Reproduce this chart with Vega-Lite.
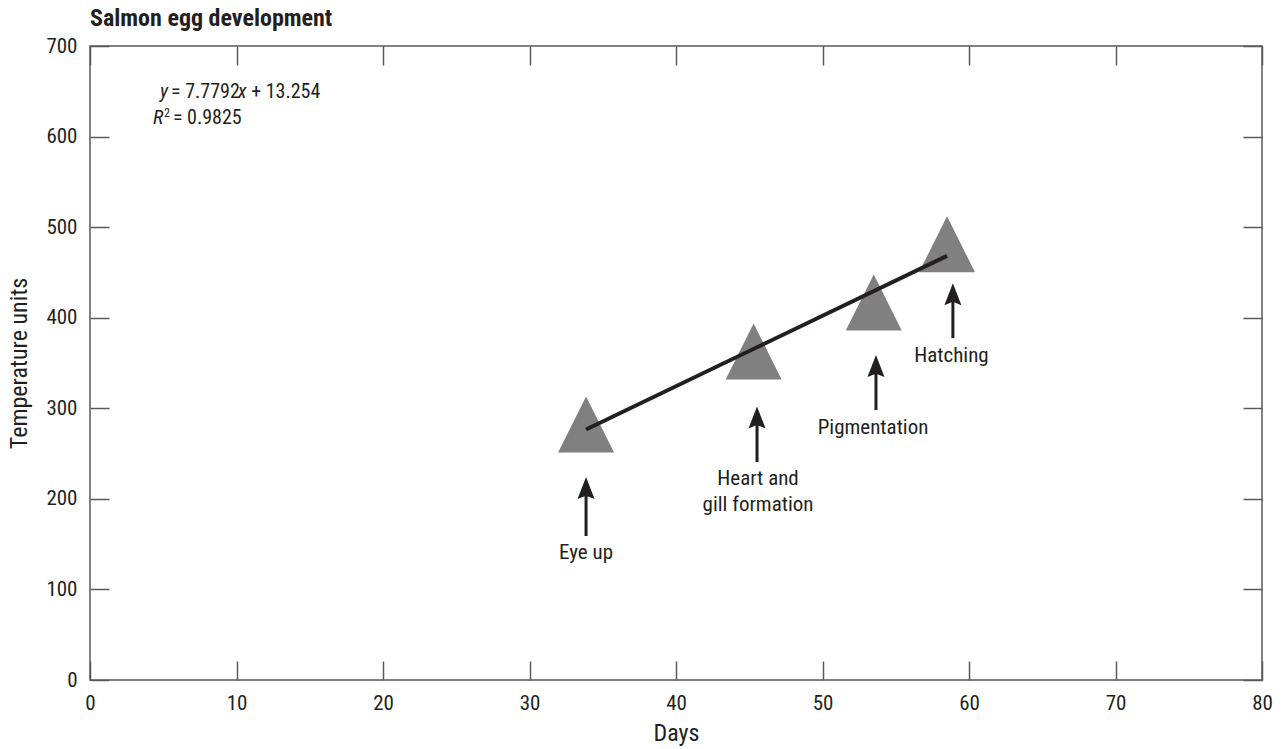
{
  "$schema": "https://vega.github.io/schema/vega-lite/v6.json",
  "width": 1172,
  "height": 634,
  "autosize": {"type": "none"},
  "padding": {"left": 90, "top": 46, "right": 23, "bottom": 69},
  "background": "white",
  "title": {"text": "Salmon egg development", "anchor": "start", "frame": "group", "font": "'Roboto Condensed', 'DejaVu Sans Condensed', serif", "fontSize": 24, "fontWeight": "bold", "color": "#231f20", "offset": 4},
  "config": {
    "view": {"stroke": "#58595b", "strokeWidth": 1.5},
    "font": "'Roboto Condensed', 'DejaVu Sans Condensed', serif",
    "axis": {
      "domain": false, "grid": false, "labelFlush": false,
      "tickColor": "#58595b", "tickWidth": 1.5, "tickSize": -19,
      "labelFont": "'Roboto Condensed', 'DejaVu Sans Condensed', serif", "labelFontSize": 21, "labelColor": "#231f20",
      "titleFont": "'Roboto Condensed', 'DejaVu Sans Condensed', serif", "titleFontSize": 24, "titleFontWeight": "normal", "titleColor": "#231f20"
    }
  },
  "datasets": {
    "stages": [
      {"days": 33.86, "units": 282, "stage": "Eye up"},
      {"days": 45.3, "units": 362.6, "stage": "Heart and gill formation"},
      {"days": 53.5, "units": 416.7, "stage": "Pigmentation"},
      {"days": 58.5, "units": 481, "stage": "Hatching"}
    ],
    "fit": [
      {"days": 33.86, "units": 276.6},
      {"days": 58.5, "units": 468.3}
    ],
    "arrows": [
      {"days": 33.86, "base": 159, "shaft": 212, "tip": 224},
      {"days": 45.53, "base": 240.6, "shaft": 290, "tip": 302},
      {"days": 53.65, "base": 298, "shaft": 346.7, "tip": 358.7},
      {"days": 58.9, "base": 377.5, "shaft": 426, "tip": 438}
    ],
    "labels": [
      {"days": 33.86, "units": 140, "label": "Eye up"},
      {"days": 45.6, "units": 222.2, "label": "Heart and"},
      {"days": 45.6, "units": 193, "label": "gill formation"},
      {"days": 53.45, "units": 278, "label": "Pigmentation"},
      {"days": 58.8, "units": 357.3, "label": "Hatching"}
    ],
    "eqnormal": [
      {"days": 5.53, "units": 649.6, "label": "= 7.7792"},
      {"days": 11.0, "units": 649.6, "label": "+ 13.254"},
      {"days": 5.66, "units": 620.4, "label": "= 0.9825"}
    ],
    "eqitalic": [
      {"days": 4.78, "units": 649.6, "label": "y"},
      {"days": 10.1, "units": 649.6, "label": "x"},
      {"days": 4.3, "units": 620.4, "label": "R"}
    ],
    "eqsup": [
      {"days": 5.05, "units": 626, "label": "2"}
    ]
  },
  "layer": [
    {
      "data": {"name": "stages"},
      "mark": {"type": "point", "filled": true, "shape": "M0,-1L1,1L-1,1Z", "size": 3136, "color": "#808080", "opacity": 1},
      "encoding": {
        "x": {"field": "days", "type": "quantitative", "scale": {"domain": [0, 80], "nice": false},
              "axis": {"orient": "bottom", "values": [0, 10, 20, 30, 40, 50, 60, 70, 80], "title": "Days", "labelPadding": 31, "titlePadding": 8}},
        "y": {"field": "units", "type": "quantitative", "scale": {"domain": [0, 700], "nice": false},
              "axis": {"orient": "left", "values": [0, 100, 200, 300, 400, 500, 600, 700], "title": "Temperature units", "labelPadding": 32, "titlePadding": 14}}
      }
    },
    {
      "data": {"name": "fit"},
      "mark": {"type": "line", "color": "#231f20", "strokeWidth": 4},
      "encoding": {
        "x": {"field": "days", "type": "quantitative", "scale": {"domain": [0, 80], "nice": false},
              "axis": {"orient": "top", "values": [0, 10, 20, 30, 40, 50, 60, 70, 80], "labels": false, "title": null}},
        "y": {"field": "units", "type": "quantitative", "scale": {"domain": [0, 700], "nice": false},
              "axis": {"orient": "right", "values": [0, 100, 200, 300, 400, 500, 600, 700], "labels": false, "title": null}}
      }
    },
    {
      "data": {"name": "arrows"},
      "mark": {"type": "rule", "color": "#231f20", "strokeWidth": 3},
      "encoding": {
        "x": {"field": "days", "type": "quantitative", "scale": {"domain": [0, 80], "nice": false}, "axis": null},
        "y": {"field": "base", "type": "quantitative", "scale": {"domain": [0, 700], "nice": false}, "axis": null},
        "y2": {"field": "shaft"}
      }
    },
    {
      "data": {"name": "arrows"},
      "mark": {"type": "point", "filled": true, "shape": "M0,0L0.62,1.6L0,1.35L-0.62,1.6Z", "size": 756, "color": "#231f20", "opacity": 1},
      "encoding": {
        "x": {"field": "days", "type": "quantitative", "scale": {"domain": [0, 80], "nice": false}, "axis": null},
        "y": {"field": "tip", "type": "quantitative", "scale": {"domain": [0, 700], "nice": false}, "axis": null}
      }
    },
    {
      "data": {"name": "labels"},
      "mark": {"type": "text", "align": "center", "baseline": "middle", "fontSize": 21, "color": "#231f20"},
      "encoding": {
        "x": {"field": "days", "type": "quantitative", "scale": {"domain": [0, 80], "nice": false}, "axis": null},
        "y": {"field": "units", "type": "quantitative", "scale": {"domain": [0, 700], "nice": false}, "axis": null},
        "text": {"field": "label"}
      }
    },
    {
      "data": {"name": "eqnormal"},
      "mark": {"type": "text", "align": "left", "baseline": "middle", "fontSize": 20, "color": "#231f20"},
      "encoding": {
        "x": {"field": "days", "type": "quantitative", "scale": {"domain": [0, 80], "nice": false}, "axis": null},
        "y": {"field": "units", "type": "quantitative", "scale": {"domain": [0, 700], "nice": false}, "axis": null},
        "text": {"field": "label"}
      }
    },
    {
      "data": {"name": "eqitalic"},
      "mark": {"type": "text", "align": "left", "baseline": "middle", "fontSize": 20, "fontStyle": "italic", "color": "#231f20"},
      "encoding": {
        "x": {"field": "days", "type": "quantitative", "scale": {"domain": [0, 80], "nice": false}, "axis": null},
        "y": {"field": "units", "type": "quantitative", "scale": {"domain": [0, 700], "nice": false}, "axis": null},
        "text": {"field": "label"}
      }
    },
    {
      "data": {"name": "eqsup"},
      "mark": {"type": "text", "align": "left", "baseline": "middle", "fontSize": 12, "color": "#231f20"},
      "encoding": {
        "x": {"field": "days", "type": "quantitative", "scale": {"domain": [0, 80], "nice": false}, "axis": null},
        "y": {"field": "units", "type": "quantitative", "scale": {"domain": [0, 700], "nice": false}, "axis": null},
        "text": {"field": "label"}
      }
    }
  ],
  "resolve": {"axis": {"x": "independent", "y": "independent"}}
}
